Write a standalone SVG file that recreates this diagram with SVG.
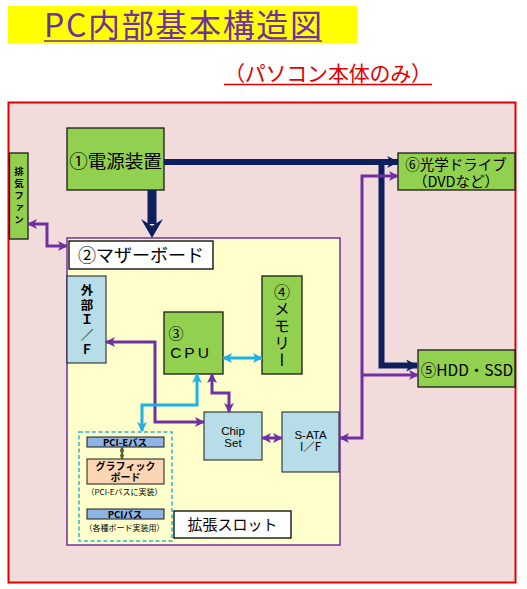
<svg xmlns="http://www.w3.org/2000/svg" width="527" height="589" viewBox="0 0 527 589">
<style>
text{font-family:"Noto Sans CJK JP","Liberation Sans",sans-serif;fill:#000;}
.lat{font-family:"Liberation Sans","Noto Sans CJK JP",sans-serif;}
.c{text-anchor:middle;}
.vert{writing-mode:vertical-rl;text-orientation:upright;text-anchor:start;}
.green{fill:#92D050;stroke:#1a1a1a;stroke-width:1.3;}
.blue{fill:#B7DEE8;stroke:#1a1a1a;stroke-width:1;}
.bar{fill:#8DB4E2;stroke:#1a1a1a;stroke-width:1;}
.label{fill:#fff;stroke:#000;stroke-width:1.3;}
.pur{fill:none;stroke:#7030A0;stroke-width:3;}
.cy{fill:none;stroke:#1FB0E8;stroke-width:3;}
.navy{fill:none;stroke:#0D1F5C;stroke-width:6;}
</style>
<defs>
<marker id="mp" viewBox="0 0 10 10" refX="9" refY="5" markerWidth="10" markerHeight="10" markerUnits="userSpaceOnUse" orient="auto-start-reverse"><path d="M0,0 L10,5 L0,10 L2.5,5 Z" fill="#7030A0"/></marker>
<marker id="mc" viewBox="0 0 10 10" refX="9" refY="5" markerWidth="10" markerHeight="10" markerUnits="userSpaceOnUse" orient="auto-start-reverse"><path d="M0,0 L10,5 L0,10 L2.5,5 Z" fill="#1FB0E8"/></marker>
<marker id="mn" viewBox="0 0 10 10" refX="9" refY="5" markerWidth="12" markerHeight="12" markerUnits="userSpaceOnUse" orient="auto-start-reverse"><path d="M0,0 L10,5 L0,10 L2.5,5 Z" fill="#0D1F5C"/></marker>
<marker id="mg" viewBox="0 0 10 10" refX="9" refY="5" markerWidth="5" markerHeight="5" markerUnits="userSpaceOnUse" orient="auto-start-reverse"><path d="M0,0 L10,5 L0,10 Z" fill="#4F6228"/></marker>
</defs>

<!-- title -->
<g id="title">
<rect x="8" y="6" width="349" height="37" fill="#FFFF00"/>
<text x="44" y="37" font-size="32" textLength="278" style="fill:#7030A0">PC内部基本構造図</text>
<line x1="44" y1="41" x2="322" y2="41" stroke="#7030A0" stroke-width="1.5"/>
</g>
<g id="subtitle">
<text x="224" y="81" font-size="21" textLength="208" style="fill:#E00000">（パソコン本体のみ）</text>
<line x1="224" y1="84.5" x2="432" y2="84.5" stroke="#E00000" stroke-width="1.3"/>
</g>

<!-- outer case -->
<g id="case">
<rect x="8.5" y="102.5" width="507" height="480" fill="#F2DCDB" stroke="#E00000" stroke-width="2"/>
</g>

<!-- motherboard -->
<g id="motherboard">
<rect x="67" y="238" width="273" height="307" fill="#FFFFCC" stroke="#7030A0" stroke-width="1.5"/>
<rect x="69" y="241" width="144" height="28" class="label"/>
<text x="141" y="261.5" class="c" font-size="18">②マザーボード</text>
</g>

<g id="fan">
<rect x="9.5" y="153" width="18.5" height="86" class="green"/>
<text x="19" y="167" class="vert" font-size="9.5" font-weight="bold" letter-spacing="2.5">排気ファン</text>
</g>

<g id="power">
<rect x="67" y="128" width="97" height="62" class="green"/>
<text x="115.5" y="168" class="c" font-size="18.5">①電源装置</text>
</g>

<g id="optical">
<rect x="398" y="153" width="117" height="37" class="green"/>
<text class="c" font-size="14.5"><tspan x="456" y="170">⑥光学ドライブ</tspan><tspan x="456" y="187">（DVDなど）</tspan></text>
</g>

<g id="hdd">
<rect x="418" y="350" width="97" height="37" class="green"/>
<text x="467" y="375.5" class="c" font-size="15.5">⑤HDD・SSD</text>
</g>

<g id="extif">
<rect x="67" y="276" width="39" height="87" class="blue"/>
<text x="87" y="283.5" class="vert" font-size="12.5" font-weight="bold" letter-spacing="2.5">外部Ｉ／Ｆ</text>
</g>

<g id="cpu">
<rect x="164" y="312" width="59" height="62" class="green"/>
<text class="c" font-size="15"><tspan x="176" y="339">③</tspan><tspan x="191" y="358" class="lat" font-size="15.5" letter-spacing="3">CPU</tspan></text>
</g>

<g id="memory">
<rect x="262" y="276" width="40" height="98" class="green"/>
<text x="282" y="284" class="vert" font-size="16" letter-spacing="1">④メモリー</text>
</g>

<g id="chipset">
<rect x="204" y="412" width="58" height="48" class="blue"/>
<text class="c lat" font-size="11.5"><tspan x="233" y="435">Chip</tspan><tspan x="233" y="447">Set</tspan></text>
</g>

<g id="sata">
<rect x="282" y="412" width="57" height="60" class="blue"/>
<text class="c" font-size="11.5"><tspan x="310.5" y="439" class="lat">S-ATA</tspan><tspan x="310.5" y="451">I／F</tspan></text>
</g>

<g id="slots">
<rect x="79" y="432" width="93" height="109" fill="none" stroke="#31B0D0" stroke-width="1.5" stroke-dasharray="4,2.5"/>
<rect x="87" y="437" width="77" height="10" class="bar"/>
<text x="125" y="445.5" class="c" font-size="9.5" font-weight="bold">PCI-Eバス</text>
<rect x="87" y="459" width="77" height="25" fill="#FCD5B4" stroke="#1a1a1a" stroke-width="1"/>
<text class="c" font-size="10" font-weight="bold"><tspan x="125.5" y="469.5">グラフィック</tspan><tspan x="125.5" y="481">ボード</tspan></text>
<text x="124.5" y="495" class="c" font-size="8">（PCI-Eバスに実装）</text>
<rect x="87" y="509" width="77" height="10" class="bar"/>
<text x="125" y="517.5" class="c" font-size="9.5" font-weight="bold">PCIバス</text>
<text x="124.5" y="531" class="c" font-size="8">（各種ボード実装用）</text>
</g>

<g id="expansion-label">
<rect x="174" y="511" width="117" height="27" class="label"/>
<text x="232.5" y="530" class="c" font-size="15">拡張スロット</text>
</g>

<g id="connectors">
<!-- power -->
<rect x="147.5" y="190" width="9" height="34" fill="#0D1F5C"/>
<path d="M141,219 L152,238 L163,219 L152,226 Z" fill="#0D1F5C"/>
<path d="M164,162 H398" class="navy" marker-end="url(#mn)"/>
<path d="M381.5,162 V365.5 H417" class="navy" marker-end="url(#mn)"/>
<!-- purple data to drives -->
<path d="M398,176 H362 V438 H340" class="pur" marker-start="url(#mp)" marker-end="url(#mp)"/>
<path d="M362,375 H418" class="pur" marker-end="url(#mp)"/>
<!-- fan -->
<path d="M28,224 H47 V246 H67" class="pur" marker-start="url(#mp)" marker-end="url(#mp)"/>
<!-- ext I/F to chipset -->
<path d="M106,342 H155 V422 H204" class="pur" marker-start="url(#mp)" marker-end="url(#mp)"/>
<!-- CPU chipset -->
<path d="M212,374 V393 H229 V412" class="pur" marker-start="url(#mp)" marker-end="url(#mp)"/>
<!-- chipset sata -->
<path d="M262,438 H282" class="pur" marker-start="url(#mp)" marker-end="url(#mp)"/>
<!-- CPU memory -->
<path d="M223,358 H262" class="cy" marker-start="url(#mc)" marker-end="url(#mc)"/>
<!-- CPU to PCI-E -->
<path d="M197,374 V405 H142 V431" class="cy" marker-start="url(#mc)" marker-end="url(#mc)"/>
<!-- PCI-E to graphics -->
<path d="M122,447 V459" fill="none" stroke="#4F6228" stroke-width="2.5" marker-start="url(#mg)" marker-end="url(#mg)"/>
</g>
</svg>
